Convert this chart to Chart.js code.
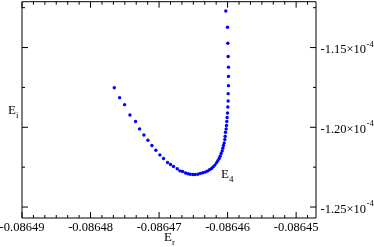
<!DOCTYPE html>
<html><head><meta charset="utf-8">
<script src="https://cdn.jsdelivr.net/npm/chart.js@4/dist/chart.umd.min.js"></script>
<style>
html,body{margin:0;padding:0;background:#fff;}
#wrap{position:relative;width:374px;height:247px;overflow:hidden;}
canvas{display:block;}
.lbl{position:absolute;font-family:"Liberation Serif","Times New Roman",serif;font-size:13px;color:#000;line-height:1;white-space:nowrap;}
.lbl sub{font-size:9px;vertical-align:baseline;position:relative;top:4px;}
</style></head><body>
<div id="wrap"><canvas id="c" width="374" height="247"></canvas>
<div class="lbl" style="left:8px;top:103px">E<sub>i</sub></div>
<div class="lbl" style="left:164px;top:230px">E<sub>r</sub></div>
<div class="lbl" style="left:221px;top:167px">E<sub>4</sub></div>
</div>
<script>
const erValues = [-0.086476535, -0.086475758, -0.086475029, -0.086474252, -0.086473426, -0.086472843, -0.086472212, -0.086471629, -0.086471045, -0.086470462, -0.086469879, -0.086469344, -0.086468761, -0.086468324, -0.086467887, -0.086467352, -0.086466964, -0.086466575, -0.086466138, -0.086465798, -0.086465457, -0.086465069, -0.086464728, -0.086464340, -0.086463999, -0.086463611, -0.086463270, -0.086462979, -0.086462639, -0.086462347, -0.086462104, -0.086461862, -0.086461619, -0.086461425, -0.086461229, -0.086461084, -0.086460938, -0.086460792, -0.086460696, -0.086460598, -0.086460501, -0.086460404, -0.086460355, -0.086460307, -0.086460209, -0.086460161, -0.086460113, -0.086460063, -0.086460015, -0.086459967, -0.086459917, -0.086459917, -0.086459869, -0.086459869, -0.086459869, -0.086459917, -0.086459967, -0.086460015, -0.086460258];
const eiValues = [-1.1752e-4, -1.1814e-4, -1.1858e-4, -1.1923e-4, -1.1964e-4, -1.2010e-4, -1.2048e-4, -1.2081e-4, -1.2114e-4, -1.2144e-4, -1.2173e-4, -1.2196e-4, -1.2221e-4, -1.2233e-4, -1.2246e-4, -1.2260e-4, -1.2273e-4, -1.2277e-4, -1.2287e-4, -1.2291e-4, -1.2294e-4, -1.2296e-4, -1.2296e-4, -1.2294e-4, -1.2289e-4, -1.2285e-4, -1.2281e-4, -1.2275e-4, -1.2266e-4, -1.2258e-4, -1.2248e-4, -1.2237e-4, -1.2223e-4, -1.2210e-4, -1.2196e-4, -1.2181e-4, -1.2164e-4, -1.2148e-4, -1.2131e-4, -1.2114e-4, -1.2098e-4, -1.2077e-4, -1.2056e-4, -1.2031e-4, -1.2010e-4, -1.1989e-4, -1.1964e-4, -1.1939e-4, -1.1910e-4, -1.1873e-4, -1.1835e-4, -1.1789e-4, -1.1739e-4, -1.1681e-4, -1.1623e-4, -1.1556e-4, -1.1473e-4, -1.1373e-4, -1.1271e-4];
const xTickValues = [-0.08649, -0.08648, -0.08647, -0.08646, -0.08645];
const xTickLabels = ["-0.08649", "-0.08648", "-0.08647", "-0.08646", "-0.08645"];
const yTickValues = [-1.25e-4, -1.20e-4, -1.15e-4];
const yTickMantissas = ["-1.25\u00d710", "-1.20\u00d710", "-1.15\u00d710"];
const yTickExponents = ["-4", "-4", "-4"];
const xMinorPerMajor = 6;
const yMinorPerMajor = 2;

const points = erValues.map((v, i) => ({x: v, y: eiValues[i]}));

const framePlugin = {
  id: 'frame',
  afterDraw(chart) {
    const ctx = chart.ctx;
    const {left, right, top, bottom} = chart.chartArea;
    const xs = chart.scales.x, ys = chart.scales.y;
    ctx.save();
    ctx.strokeStyle = '#000';
    ctx.lineWidth = 1;
    ctx.beginPath();
    ctx.rect(left, top, right - left, bottom - top);
    ctx.stroke();
    const seg = (x1, y1, x2, y2) => { ctx.beginPath(); ctx.moveTo(x1, y1); ctx.lineTo(x2, y2); ctx.stroke(); };
    const MAJ = 6, MIN = 3;
    const xStep = xTickValues[1] - xTickValues[0];
    xTickValues.forEach(v => {
      const p = xs.getPixelForValue(v);
      seg(p, bottom, p, bottom - MAJ); seg(p, top, p, top + MAJ);
    });
    for (let k = 1; k < (xTickValues.length + 2) * xMinorPerMajor; k++) {
      if (k % xMinorPerMajor === 0) continue;
      const v = xTickValues[0] + k * xStep / xMinorPerMajor;
      const p = xs.getPixelForValue(v);
      if (p < left || p > right) continue;
      seg(p, bottom, p, bottom - MIN); seg(p, top, p, top + MIN);
    }
    const yStep = yTickValues[1] - yTickValues[0];
    yTickValues.forEach(v => {
      const p = ys.getPixelForValue(v);
      seg(left, p, left + MAJ, p); seg(right, p, right - MAJ, p);
    });
    for (let k = -4; k <= (yTickValues.length + 3) * yMinorPerMajor; k++) {
      if (k % yMinorPerMajor === 0) continue;
      const v = yTickValues[0] + k * yStep / yMinorPerMajor;
      const p = ys.getPixelForValue(v);
      if (p < top || p > bottom) continue;
      seg(left, p, left + MIN, p); seg(right, p, right - MIN, p);
    }
    ctx.fillStyle = '#000';
    ctx.textAlign = 'left';
    ctx.textBaseline = 'alphabetic';
    yTickValues.forEach((v, i) => {
      const p = ys.getPixelForValue(v);
      ctx.font = '12.5px "Liberation Serif"';
      const x0 = right + 4.5;
      ctx.fillText(yTickMantissas[i], x0, p + 5.8);
      const w = ctx.measureText(yTickMantissas[i]).width;
      ctx.font = '8.5px "Liberation Serif"';
      ctx.fillText(yTickExponents[i], x0 + w + 0.5, p - 1);
    });
    ctx.restore();
  }
};

new Chart(document.getElementById('c'), {
  type: 'scatter',
  data: {
    datasets: [{
      data: points,
      backgroundColor: '#0000ff',
      borderWidth: 0,
      pointRadius: 1.7,
      pointHoverRadius: 1.7
    }]
  },
  options: {
    responsive: false,
    animation: false,
    devicePixelRatio: 1,
    layout: {padding: {left: 22, top: 1, right: 0, bottom: 0}},
    plugins: {legend: {display: false}, tooltip: {enabled: false}},
    scales: {
      x: {
        type: 'linear', position: 'bottom',
        min: -0.08649, max: -0.0864471,
        afterBuildTicks: s => { s.ticks = xTickValues.map(v => ({value: v})); },
        afterFit: s => { s.height = 29; },
        grid: {display: false}, border: {display: false},
        ticks: {
          callback: (v, i) => xTickLabels[i],
          font: {family: '"Liberation Serif"', size: 12.5},
          color: '#000', padding: -6, maxRotation: 0, autoSkip: false
        }
      },
      y: {
        type: 'linear', position: 'right',
        min: -1.256875e-4, max: -1.12125e-4,
        afterBuildTicks: s => { s.ticks = yTickValues.map(v => ({value: v})); },
        afterFit: s => { s.width = 58; },
        grid: {display: false}, border: {display: false},
        ticks: {display: false}
      }
    }
  },
  plugins: [framePlugin]
});
</script>
</body></html>
